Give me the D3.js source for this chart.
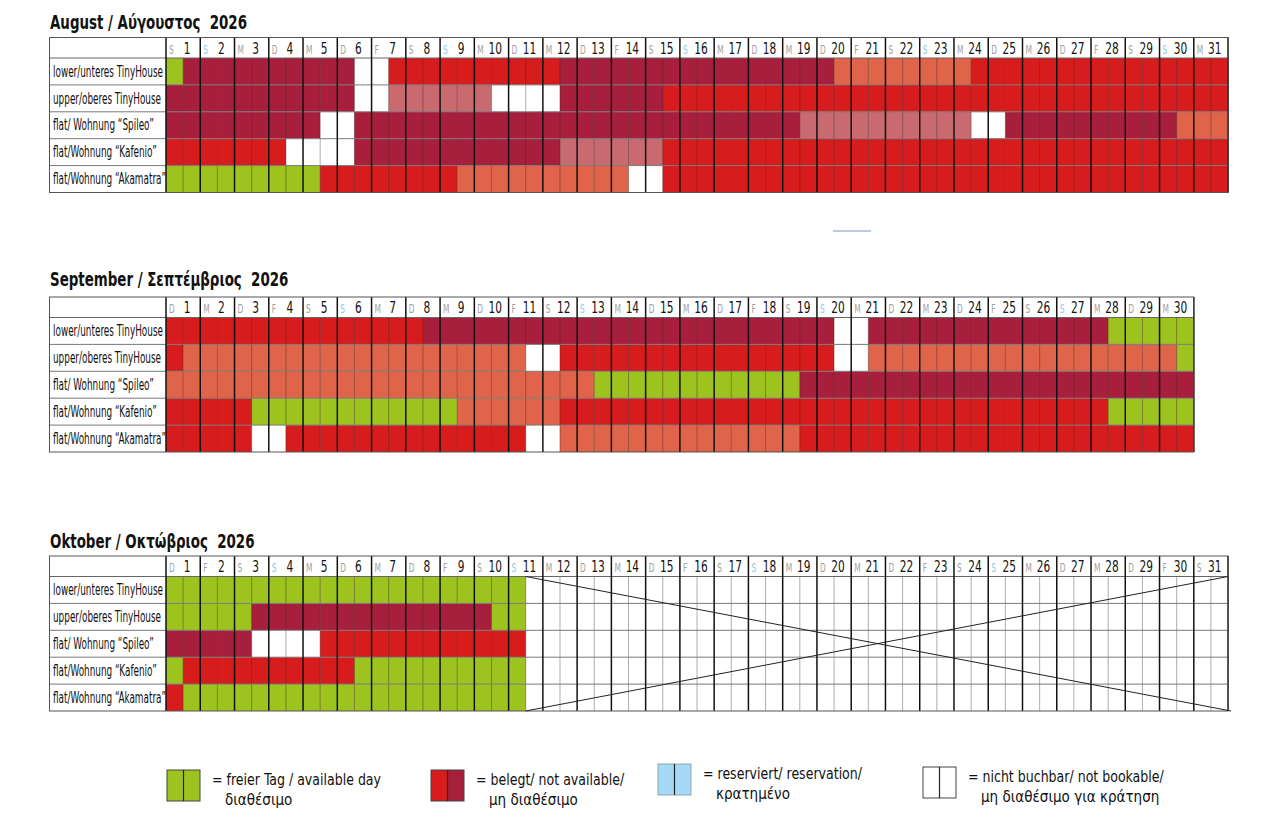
<!DOCTYPE html>
<html>
<head>
<meta charset="utf-8">
<script src="https://cdn.jsdelivr.net/npm/d3@7"></script>
<style>
  body { margin: 0; background: #fff; }
  text { font-family: "Liberation Sans Narrow", "DejaVu Sans Condensed", "Roboto", sans-serif; white-space: pre; }
</style>
</head>
<body>
<div id="chart"></div>
<script>
// rooms (rows of every month)
const rooms = [
  "lower/unteres TinyHouse",
  "upper/oberes TinyHouse",
  "flat/ Wohnung “Spileo”",
  "flat/Wohnung “Kafenio”",
  "flat/Wohnung “Akamatra”"
];

const monthTitles = ["August / Αύγουστος  2026", "September / Σεπτέμβριος  2026", "Oktober / Οκτώβριος  2026"];
const monthDays = [31, 30, 31];
// weekday of the 1st (0 = Montag)
const monthFirstWeekday = [5, 1, 3];
const weekdayLetters = ["M", "D", "M", "D", "F", "S", "S"];

// one pair per day: morning/afternoon half
// g = frei, r / m = belegt, s / p = belegt (andere Buchung), w = nicht buchbar, x = ausserhalb Saison
const augustStatus = [
  "gm mm mm mm mm mw wr rr rr rr rr rm mm mm mm mm mm mm mm ms ss ss ss sr rr rr rr rr rr rr rr",
  "mm mm mm mm mm mw wp pp pp pw ww wm mm mm mr rr rr rr rr rr rr rr rr rr rr rr rr rr rr rr rr",
  "mm mm mm mm mw wm mm mm mm mm mm mm mm mm mm mm mm mm mp pp pp pp pp pw wm mm mm mm mm ms ss",
  "rr rr rr rw ww wm mm mm mm mm mm mp pp pp pr rr rr rr rr rr rr rr rr rr rr rr rr rr rr rr rr",
  "gg gg gg gg gr rr rr rr rs ss ss ss ss sw wr rr rr rr rr rr rr rr rr rr rr rr rr rr rr rr rr"
];
const septemberStatus = [
  "rr rr rr rr rr rr rr rm mm mm mm mm mm mm mm mm mm mm mm mw wm mm mm mm mm mm mm mg gg gg",
  "rs ss ss ss ss ss ss ss ss ss sw wr rr rr rr rr rr rr rr rw ws ss ss ss ss ss ss ss ss sg",
  "ss ss ss ss ss ss ss ss ss ss ss ss sg gg gg gg gg gg gm mm mm mm mm mm mm mm mm mm mm mm",
  "rr rr rg gg gg gg gg gg gs ss ss sr rr rr rr rr rr rr rr rr rr rr rr rr rr rr rr rg gg gg",
  "rr rr rw wr rr rr rr rr rr rr rw ws ss ss ss ss ss ss sr rr rr rr rr rr rr rr rr rr rr rr"
];
const octoberStatus = [
  "gg gg gg gg gg gg gg gg gg gg gx xx xx xx xx xx xx xx xx xx xx xx xx xx xx xx xx xx xx xx xx",
  "gg gg gm mm mm mm mm mm mm mg gx xx xx xx xx xx xx xx xx xx xx xx xx xx xx xx xx xx xx xx xx",
  "mm mm mw ww wr rr rr rr rr rr rx xx xx xx xx xx xx xx xx xx xx xx xx xx xx xx xx xx xx xx xx",
  "gr rr rr rr rr rg gg gg gg gg gx xx xx xx xx xx xx xx xx xx xx xx xx xx xx xx xx xx xx xx xx",
  "rg gg gg gg gg gg gg gg gg gg gx xx xx xx xx xx xx xx xx xx xx xx xx xx xx xx xx xx xx xx xx"
];
const monthStatus = [augustStatus, septemberStatus, octoberStatus];

// legend
const legendLine1 = ["= freier Tag / available day", "= belegt/ not available/", "= reserviert/ reservation/", "= nicht buchbar/ not bookable/"];
const legendLine2 = ["διαθέσιμο", "μη διαθέσιμο", "κρατημένο", "μη διαθέσιμο για κράτηση"];
const legendCodes = [["g", "g"], ["r", "m"], ["b", "b"], ["w", "w"]];

const color = d3.scaleOrdinal()
  .domain(["g", "r", "m", "s", "p", "w", "x", "b"])
  .range(["#9dc31f", "#d71c1d", "#a81f3e", "#df6449", "#c86a70", "#ffffff", "#ffffff", "#a6d9f5"]);

const W = 1280, H = 833;
const svg = d3.select("#chart").append("svg")
  .attr("width", W)
  .attr("height", H)
  .style("display", "block");

// squeeze text horizontally (the original uses a condensed face)
function condense(sel, k) {
  sel.each(function () {
    const w = this.getComputedTextLength();
    d3.select(this).attr("textLength", w * k).attr("lengthAdjust", "spacingAndGlyphs");
  });
}
function widthOf(str, size, weight) {
  const t = svg.append("text").attr("font-size", size).attr("font-weight", weight || "normal").text(str);
  const w = t.node().getComputedTextLength();
  t.remove();
  return w;
}

// layout
const tableLeft = 49.5, labelRight = 166, dayW = 34.26;
const headH = 20.5, rowH = 26.9;
const monthTops = [37.5, 297, 556];
const titleBase = [28.5, 285.5, 547.5];
const titleK = 197 / widthOf(monthTitles[0], 20, "bold");
const labelK = 110 / widthOf(rooms[0], 15);

monthTitles.forEach((t, i) => drawMonth(i));

function drawMonth(mi) {
  const nDays = monthDays[mi];
  const top = monthTops[mi];
  const rows = monthStatus[mi].map(s => s.split(" ").join("").split(""));
  const g = svg.append("g");

  const x = d3.scaleLinear().domain([0, nDays * 2]).range([labelRight, labelRight + nDays * dayW]);
  const y = d3.scaleBand().domain(rooms).range([top + headH, top + headH + rooms.length * rowH]);
  const right = x(nDays * 2);
  const bottom = y.range()[1];

  // title
  g.append("text")
    .attr("x", 50).attr("y", titleBase[mi])
    .attr("font-size", 20).attr("font-weight", "bold").attr("fill", "#111")
    .text(monthTitles[mi])
    .call(condense, titleK);

  // half-day cells
  const cells = [];
  rows.forEach((r, ri) => r.forEach((c, k) => cells.push({ room: rooms[ri], k, c })));
  g.append("g").selectAll("rect")
    .data(cells)
    .join("rect")
    .attr("x", d => x(d.k))
    .attr("y", d => y(d.room))
    .attr("width", x(1) - x(0) + 0.3)
    .attr("height", y.bandwidth())
    .attr("fill", d => color(d.c));

  // half-day separators
  const halfLines = [];
  rows.forEach((r, ri) => {
    for (let k = 1; k < r.length; k += 2) {
      const light = "wx".includes(r[k - 1]) && "wx".includes(r[k]);
      halfLines.push({ room: rooms[ri], k, light });
    }
  });
  g.append("g").selectAll("line")
    .data(halfLines)
    .join("line")
    .attr("x1", d => x(d.k)).attr("x2", d => x(d.k))
    .attr("y1", d => y(d.room)).attr("y2", d => y(d.room) + y.bandwidth())
    .attr("stroke", d => d.light ? "#999" : "#4a2424")
    .attr("stroke-opacity", d => d.light ? 1 : 0.55)
    .attr("stroke-width", 0.8);

  // row separators
  g.append("g").selectAll("line")
    .data(rooms.slice(1))
    .join("line")
    .attr("x1", tableLeft).attr("x2", right)
    .attr("y1", d => y(d)).attr("y2", d => y(d))
    .attr("stroke", "#7a7a7a").attr("stroke-width", 1);
  g.append("line")
    .attr("x1", tableLeft).attr("x2", right)
    .attr("y1", top + headH).attr("y2", top + headH)
    .attr("stroke", "#666").attr("stroke-width", 1);

  // day separators
  g.append("g").selectAll("line")
    .data(d3.range(0, nDays + 1))
    .join("line")
    .attr("x1", d => x(d * 2)).attr("x2", d => x(d * 2))
    .attr("y1", top).attr("y2", bottom)
    .attr("stroke", "#111").attr("stroke-width", 1.5);

  // header labels
  const head = g.append("g").selectAll("g")
    .data(d3.range(1, nDays + 1))
    .join("g")
    .attr("transform", d => `translate(${x((d - 1) * 2)},${top + headH - 4.5})`);
  head.append("text")
    .attr("x", 3)
    .attr("font-size", 11.5)
    .attr("fill", d => ((monthFirstWeekday[mi] + d - 1) % 7 === 6) ? "#8cc8ea" : "#a0a0a0")
    .text(d => weekdayLetters[(monthFirstWeekday[mi] + d - 1) % 7])
    .call(condense, 0.72);
  head.append("text")
    .attr("x", 21)
    .attr("text-anchor", "middle")
    .attr("font-size", 15.5)
    .attr("fill", "#111")
    .text(d => d)
    .call(condense, 0.76);

  // room labels
  g.append("g").selectAll("text")
    .data(rooms)
    .join("text")
    .attr("x", 53)
    .attr("y", d => y(d) + y.bandwidth() / 2 + 5.2)
    .attr("font-size", 15)
    .attr("fill", "#111")
    .text(d => d)
    .call(condense, labelK);

  // outer border
  g.append("rect")
    .attr("x", tableLeft).attr("y", top)
    .attr("width", right - tableLeft).attr("height", bottom - top)
    .attr("fill", "none").attr("stroke", "#555").attr("stroke-width", 1);

  // season closed: crossed out from first 'x'
  const firstX = rows[0].indexOf("x");
  if (firstX >= 0) {
    const x0 = x(firstX);
    g.append("line").attr("x1", x0).attr("y1", top + headH).attr("x2", right + 3).attr("y2", bottom)
      .attr("stroke", "#222").attr("stroke-width", 1);
    g.append("line").attr("x1", x0).attr("y1", bottom).attr("x2", right).attr("y2", top + headH)
      .attr("stroke", "#222").attr("stroke-width", 1);
  }
}

// stray mark between August and September
svg.append("line")
  .attr("x1", 833).attr("x2", 871).attr("y1", 231).attr("y2", 231)
  .attr("stroke", "#7d8fc4").attr("stroke-width", 1);

// legend
const legendX = [167, 431, 658, 923];
const legendY = [770, 770, 764, 767];
const boxW = 33, boxH = 31;
const line1K = 169 / widthOf(legendLine1[0], 16);
const leg = svg.append("g").selectAll("g")
  .data(legendCodes)
  .join("g")
  .attr("transform", (d, i) => `translate(${legendX[i]},${legendY[i]})`);
leg.append("rect").attr("width", boxW / 2).attr("height", boxH).attr("fill", d => color(d[0]));
leg.append("rect").attr("x", boxW / 2).attr("width", boxW / 2).attr("height", boxH).attr("fill", d => color(d[1]));
leg.append("rect").attr("width", boxW).attr("height", boxH).attr("fill", "none")
  .attr("stroke", (d, i) => i === 2 ? "#8aa" : "#444").attr("stroke-width", 1);
leg.append("line").attr("x1", boxW / 2).attr("x2", boxW / 2).attr("y1", 0).attr("y2", boxH)
  .attr("stroke", "#222").attr("stroke-width", 1.2);
leg.append("text")
  .attr("x", 45).attr("y", 15)
  .attr("font-size", 16).attr("fill", "#111")
  .text((d, i) => legendLine1[i])
  .call(condense, line1K);
leg.append("text")
  .attr("x", 58).attr("y", 35)
  .attr("font-size", 15.5).attr("fill", "#111")
  .text((d, i) => legendLine2[i])
  .call(condense, 0.97);
</script>
</body>
</html>
